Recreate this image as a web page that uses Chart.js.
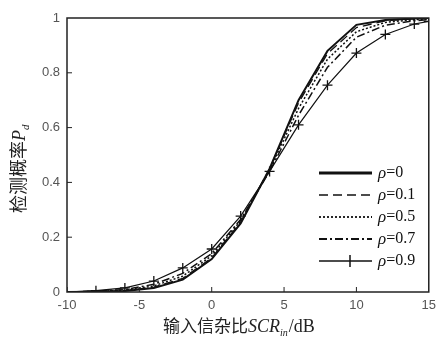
<!DOCTYPE html>
<html>
<head>
<meta charset="utf-8">
<script src="https://cdn.jsdelivr.net/npm/chart.js@4"></script>
<style>
  html, body { margin: 0; padding: 0; background: #fff; }
  #wrap { width: 442px; height: 340px; }
</style>
</head>
<body>
<div id="wrap"><canvas id="c" width="442" height="340"></canvas></div>
<script>
// input SCR (dB), sampled every 2 dB
const snr = [-10, -8, -6, -4, -2, 0, 2, 4, 6, 8, 10, 12, 14, 15]
const rho0  = [0, 0.001, 0.004, 0.015, 0.045, 0.12, 0.25, 0.45, 0.70, 0.88, 0.975, 0.993, 0.998, 1]
const rho01 = [0, 0.002, 0.005, 0.018, 0.05, 0.125, 0.255, 0.45, 0.69, 0.87, 0.965, 0.99, 0.997, 0.999]
const rho05 = [0, 0.002, 0.007, 0.022, 0.058, 0.132, 0.26, 0.445, 0.67, 0.85, 0.95, 0.984, 0.994, 0.997]
const rho07 = [0, 0.003, 0.009, 0.028, 0.068, 0.14, 0.265, 0.44, 0.645, 0.82, 0.93, 0.974, 0.99, 0.994]
const rho09 = [0, 0.005, 0.015, 0.04, 0.088, 0.157, 0.277, 0.44, 0.61, 0.755, 0.872, 0.94, 0.978, 0.988]
const legendLabels = ['ρ=0', 'ρ=0.1', 'ρ=0.5', 'ρ=0.7', 'ρ=0.9']

const pts = (ys) => snr.map((x, i) => ({ x: x, y: ys[i] }))

const series = [
  { label: legendLabels[0], data: pts(rho0),  dash: [],           width: 2 },
  { label: legendLabels[1], data: pts(rho01), dash: [9, 5],       width: 1.3 },
  { label: legendLabels[2], data: pts(rho05), dash: [2, 2],       width: 1.5 },
  { label: legendLabels[3], data: pts(rho07), dash: [8, 3, 2, 3], width: 1.5 },
  { label: legendLabels[4], data: pts(rho09), dash: [],           width: 1.2, marker: true }
]

// box, inner ticks, axis titles and legend drawn by hand
const decor = {
  id: 'decor',
  afterDraw(chart) {
    const ctx = chart.ctx
    const a = chart.chartArea
    const xs = chart.scales.x, ys = chart.scales.y
    ctx.save()
    ctx.strokeStyle = '#222'
    ctx.lineWidth = 1.5
    ctx.setLineDash([])
    ctx.strokeRect(a.left, a.top, a.right - a.left, a.bottom - a.top)

    ctx.lineWidth = 1
    ;[-5, 0, 5, 10].forEach(v => {
      const px = xs.getPixelForValue(v)
      ctx.beginPath(); ctx.moveTo(px, a.bottom); ctx.lineTo(px, a.bottom - 5); ctx.stroke()
    })
    ;[0.2, 0.4, 0.6, 0.8].forEach(v => {
      const py = ys.getPixelForValue(v)
      ctx.beginPath(); ctx.moveTo(a.left, py); ctx.lineTo(a.left + 5, py); ctx.stroke()
    })

    // x title
    ctx.fillStyle = '#222'
    ctx.textBaseline = 'alphabetic'
    ctx.textAlign = 'left'
    let x = 163, y = 332
    ctx.font = '17px "Noto Sans CJK SC"'
    ctx.fillText('输入信杂比', x, y); x += ctx.measureText('输入信杂比').width
    ctx.font = 'italic 18px "Liberation Serif"'
    ctx.fillText('SCR', x, y); x += ctx.measureText('SCR').width
    ctx.font = 'italic 10px "Liberation Serif"'
    ctx.fillText('in', x, y + 4); x += ctx.measureText('in').width + 1
    ctx.font = '18px "Liberation Serif"'
    ctx.fillText('/dB', x, y)

    // y title, rotated
    ctx.save()
    ctx.translate(25, 213)
    ctx.rotate(-Math.PI / 2)
    x = 0; y = 0
    ctx.font = '18px "Noto Sans CJK SC"'
    ctx.fillText('检测概率', x, y); x += ctx.measureText('检测概率').width
    ctx.font = 'italic 18px "Liberation Serif"'
    ctx.fillText('P', x, y); x += ctx.measureText('P').width
    ctx.font = 'italic 11px "Liberation Serif"'
    ctx.fillText('d', x, y + 4)
    ctx.restore()

    // legend
    const lx0 = 319, lx1 = 372
    series.forEach((s, i) => {
      const ly = 173 + i * 22
      ctx.strokeStyle = '#111'
      ctx.lineWidth = i === 0 ? 3 : s.width + 0.3
      ctx.setLineDash(s.dash)
      ctx.beginPath(); ctx.moveTo(lx0, ly); ctx.lineTo(lx1, ly); ctx.stroke()
      ctx.setLineDash([])
      if (s.marker) {
        ctx.lineWidth = 1.5
        ctx.beginPath()
        ctx.moveTo(lx1 - 22, ly - 6); ctx.lineTo(lx1 - 22, ly + 6)
        ctx.stroke()
      }
      ctx.font = 'italic 17px "Liberation Serif"'
      ctx.fillStyle = '#111'
      ctx.textBaseline = 'middle'
      ctx.fillText('ρ', 378, ly + 1)
      const w = ctx.measureText('ρ').width
      ctx.font = '16px "Liberation Serif"'
      ctx.fillText(s.label.slice(1), 378 + w, ly)
    })
    ctx.restore()
  }
}

new Chart(document.getElementById('c'), {
  type: 'line',
  data: {
    datasets: series.map(s => ({
      label: s.label,
      data: s.data,
      borderColor: '#111',
      borderWidth: s.width,
      borderDash: s.dash,
      tension: 0,
      fill: false,
      pointStyle: 'cross',
      pointRadius: s.marker ? 5 : 0,
      pointBorderWidth: 1.3,
      pointBorderColor: '#111'
    }))
  },
  options: {
    responsive: false,
    animation: false,
    layout: { padding: { top: 18, right: 9, left: 0, bottom: 0 } },
    plugins: { legend: { display: false }, tooltip: { enabled: false } },
    scales: {
      x: {
        type: 'linear', min: -10, max: 15,
        grid: { display: false, drawTicks: false },
        border: { display: false },
        afterFit(s) { s.height = 48 },
        ticks: {
          stepSize: 5, padding: 6, color: '#555',
          font: { family: 'Liberation Sans', size: 13 }
        }
      },
      y: {
        min: 0, max: 1,
        grid: { display: false, drawTicks: false },
        border: { display: false },
        afterFit(s) { s.width = 67 },
        ticks: {
          stepSize: 0.2, padding: 7, color: '#555',
          font: { family: 'Liberation Sans', size: 13 },
          callback: v => Number(v.toFixed(1)).toString()
        }
      }
    }
  },
  plugins: [decor]
})
</script>
</body>
</html>
